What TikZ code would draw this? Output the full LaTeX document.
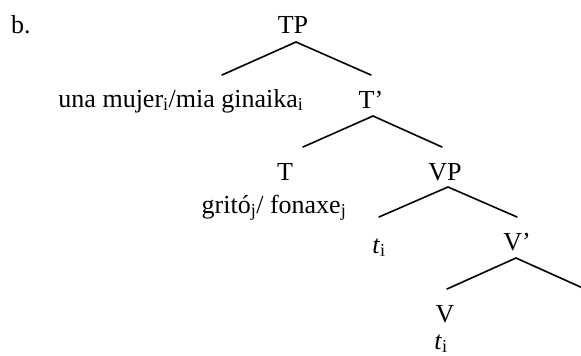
\documentclass[tikz,border=0pt]{standalone}
\usepackage{fontspec}
\setmainfont{Liberation Serif}
\begin{document}
\begin{tikzpicture}[x=1pt,y=-1pt,
  lab/.style={inner sep=0pt,anchor=base,font=\fontsize{26}{30}\selectfont},
  branch/.style={line width=1.6pt,line cap=round}]
\useasboundingbox (0,0) rectangle (581,356);
% labels
\node[lab,anchor=base west] (b) at (11,33) {b.};
\node[lab] (TP) at (293,33) {TP};
\node[lab] (spec) at (181,107) {una mujer\textsubscript{i}/mia ginaika\textsubscript{i}};
\node[lab] (Tbar) at (371,108) {T’};
\node[lab] (T) at (285,180) {T};
\node[lab] (verb) at (274,213) {gritó\textsubscript{j}/ fonaxe\textsubscript{j}};
\node[lab] (VP) at (445,180) {VP};
\node[lab] (ti1) at (379,253) {\textit{t}\textsubscript{i}};
\node[lab] (Vbar) at (517,250) {V’};
\node[lab] (V) at (445,322) {V};
\node[lab] (ti2) at (441,349) {\textit{t}\textsubscript{i}};
% branch end points
\coordinate (TPa) at (296,42);
\coordinate (TPl) at (222,75);
\coordinate (TPr) at (371,75);
\coordinate (Tba) at (373,116);
\coordinate (Tbl) at (303,147);
\coordinate (Tbr) at (442,147);
\coordinate (VPa) at (448,187);
\coordinate (VPl) at (379,217);
\coordinate (VPr) at (517,217);
\coordinate (Vba) at (516,258);
\coordinate (Vbl) at (447,289);
\coordinate (Vbr) at (585,289);
% branches
\draw[branch] (TPl) -- (TPa) -- (TPr);
\draw[branch] (Tbl) -- (Tba) -- (Tbr);
\draw[branch] (VPl) -- (VPa) -- (VPr);
\draw[branch] (Vbl) -- (Vba) -- (Vbr);
\end{tikzpicture}
\end{document}
